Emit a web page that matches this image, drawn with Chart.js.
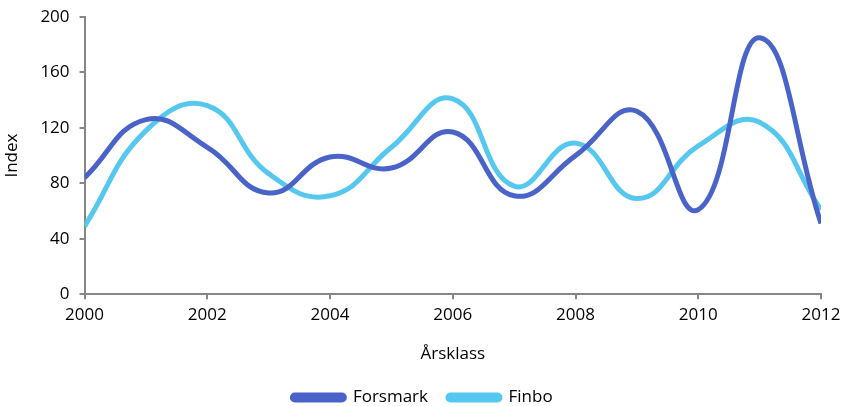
<!DOCTYPE html>
<html>
<head>
<meta charset="utf-8">
<script src="https://cdn.jsdelivr.net/npm/chart.js@4"></script>
<style>
  html, body { margin: 0; padding: 0; background: #fff; }
  #wrap { width: 843px; height: 406px; }
</style>
</head>
<body>
<div id="wrap"><canvas id="indexChart" width="843" height="406"></canvas></div>
<script>
const years = [2000, 2001, 2002, 2003, 2004, 2005, 2006, 2007, 2008, 2009, 2010, 2011, 2012];
const forsmark = [84, 126, 106, 73, 99, 91, 117, 71, 100, 132, 61, 185, 51];
const finbo = [49, 118, 136, 87, 71, 106, 141, 78, 109, 69, 107, 124, 61];
const yTicks = [0, 40, 80, 120, 160, 200];

const axisGray = "#868686";
const font = { family: "'Open Sans', sans-serif", size: 17 };

function toPoints(values) {
    return years.map((y, i) => ({ x: y, y: values[i] }));
}

const chart = new Chart(document.getElementById("indexChart"), {
    type: "line",
    data: {
        datasets: [
            {
                label: "Forsmark",
                data: toPoints(forsmark),
                borderColor: "#4a63c8",
                backgroundColor: "#4a63c8",
                borderWidth: 5,
                pointRadius: 0,
                tension: 0.45
            },
            {
                label: "Finbo",
                data: toPoints(finbo),
                borderColor: "#56c8ef",
                backgroundColor: "#56c8ef",
                borderWidth: 5,
                pointRadius: 0,
                tension: 0.45
            }
        ]
    },
    options: {
        responsive: false,
        animation: false,
        layout: { padding: { left: 2, right: 0, top: 0, bottom: -10 } },
        plugins: {
            tooltip: { enabled: false },
            legend: {
                position: "bottom",
                labels: {
                    color: "#000",
                    font: font,
                    boxWidth: 52,
                    boxHeight: 5,
                    useBorderRadius: true,
                    borderRadius: 2.5,
                    padding: 20
                }
            }
        },
        scales: {
            x: {
                type: "linear",
                min: 2000,
                max: 2012,
                afterFit: scale => { scale.paddingRight = 22; },
                ticks: {
                    stepSize: 2,
                    color: "#000",
                    font: font,
                    padding: 6,
                    callback: v => String(v)
                },
                grid: { drawOnChartArea: false, drawTicks: true, tickLength: 5, color: axisGray, lineWidth: 2 },
                border: { color: axisGray, width: 2 },
                title: { display: true, text: "Årsklass", color: "#000", font: font, padding: { top: 12, bottom: 5 } }
            },
            y: {
                min: 0,
                max: 200,
                afterFit: scale => { scale.paddingTop = 17; },
                afterBuildTicks: axis => { axis.ticks = yTicks.map(v => ({ value: v })); },
                ticks: { color: "#000", font: font, padding: 10 },
                grid: { drawOnChartArea: false, drawTicks: true, tickLength: 5, color: axisGray, lineWidth: 2 },
                border: { color: axisGray, width: 2 },
                title: { display: true, text: "Index", color: "#000", font: font, padding: { top: 0, bottom: 8 } }
            }
        }
    }
});
</script>
</body>
</html>
